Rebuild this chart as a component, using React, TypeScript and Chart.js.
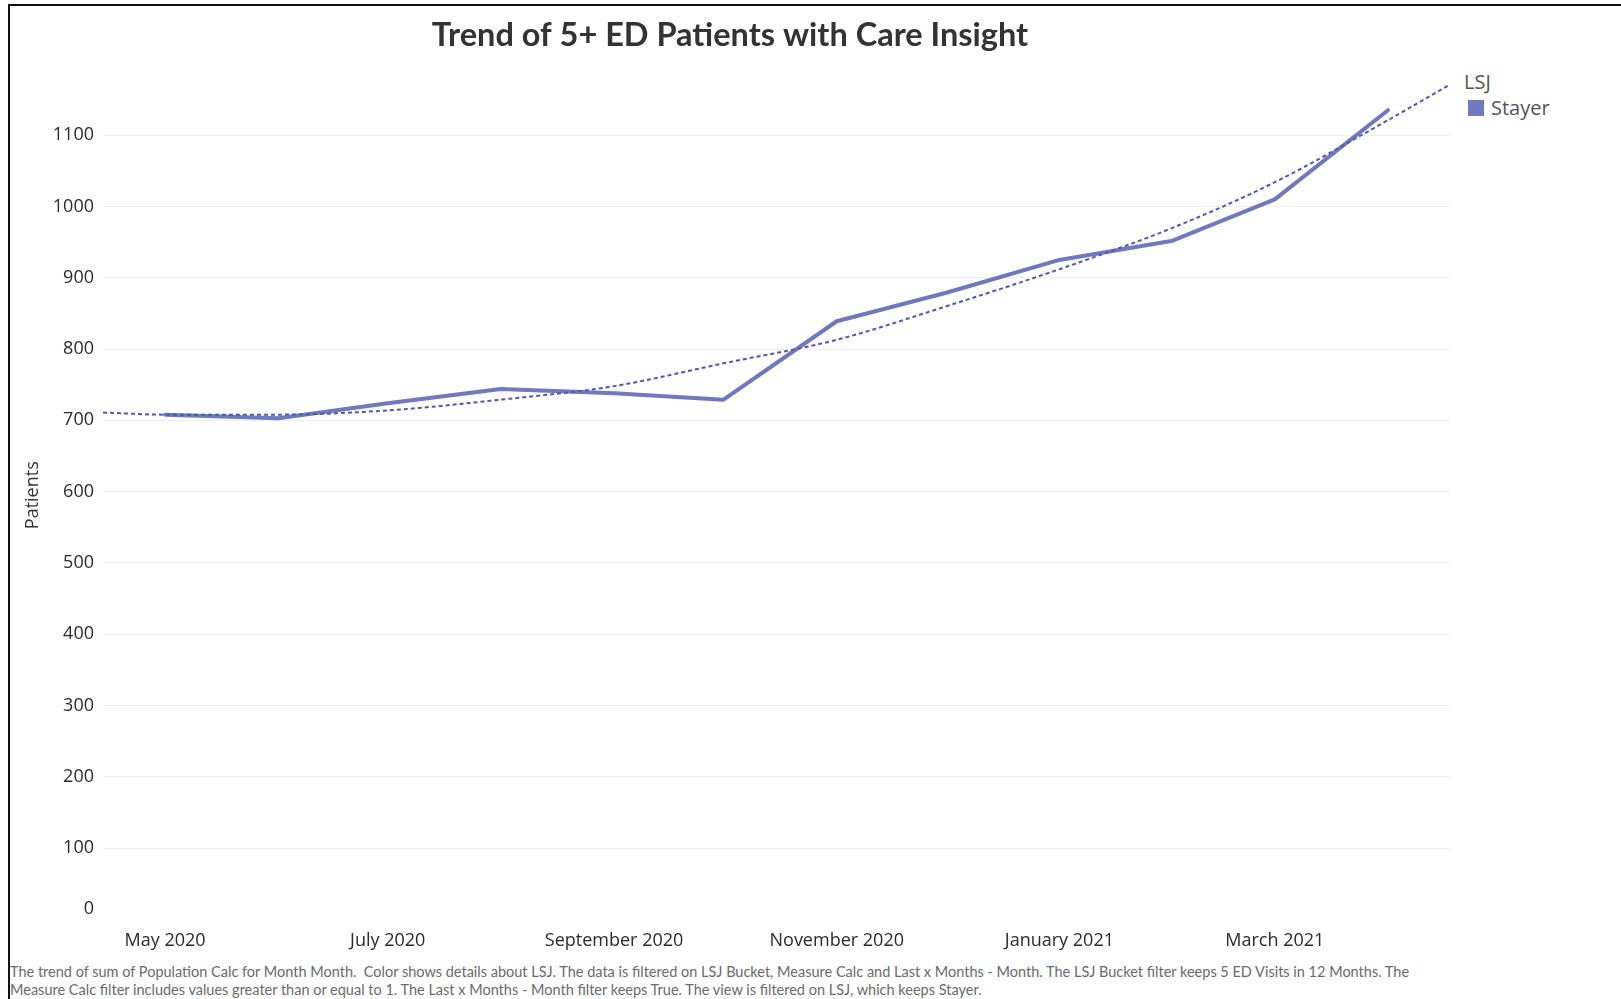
import React, { useEffect, useRef } from "react";
import { Chart, registerables } from "chart.js";

Chart.register(...registerables);

const TITLE = "Trend of 5+ ED Patients with Care Insight";
const Y_TITLE = "Patients";
const LEGEND_TITLE = "LSJ";
const SERIES_NAME = "Stayer";

const monthDates = [
  "2020-05-01", "2020-06-01", "2020-07-01", "2020-08-01", "2020-09-01", "2020-10-01",
  "2020-11-01", "2020-12-01", "2021-01-01", "2021-02-01", "2021-03-01", "2021-04-01",
];
const stayerValues = [708, 703, 724, 744, 738, 729, 839, 879, 925, 952, 1010, 1135];

const trendDates = [
  "2020-04-14", "2020-05-01", "2020-06-01", "2020-07-01", "2020-08-01", "2020-09-01", "2020-10-01",
  "2020-11-01", "2020-12-01", "2021-01-01", "2021-02-01", "2021-03-01", "2021-04-01", "2021-04-18",
];
const trendValues = [711, 708, 708, 714, 729, 748, 780, 813, 860, 912, 970, 1034, 1121, 1171];

const xTickDates = ["2020-05-01", "2020-07-01", "2020-09-01", "2020-11-01", "2021-01-01", "2021-03-01"];
const xTickLabels = ["May 2020", "July 2020", "September 2020", "November 2020", "January 2021", "March 2021"];
const yTickValues = [0, 100, 200, 300, 400, 500, 600, 700, 800, 900, 1000, 1100];

const X_START = "2020-04-14";
const X_END = "2021-04-18";
const Y_MIN = 0;
const Y_MAX = 1190;

const FOOTER_1 =
  "The trend of sum of Population Calc for Month Month.  Color shows details about LSJ. The data is filtered on LSJ Bucket, Measure Calc and Last x Months - Month. The LSJ Bucket filter keeps 5 ED Visits in 12 Months. The";
const FOOTER_2 =
  "Measure Calc filter includes values greater than or equal to 1. The Last x Months - Month filter keeps True. The view is filtered on LSJ, which keeps Stayer.";

const LINE_COLOR = "#7078be";
const TREND_COLOR = "#5358ae";

const BASE = Date.UTC(2020, 4, 1);
function dayOf(s: string): number {
  const [y, m, d] = s.split("-").map(Number);
  return (Date.UTC(y, m - 1, d) - BASE) / 86400000;
}

export default function App() {
  const ref = useRef<HTMLCanvasElement | null>(null);

  useEffect(() => {
    if (!ref.current) return;
    const chart = new Chart(ref.current, {
      type: "line",
      data: {
        datasets: [
          {
            label: "Trend",
            data: trendDates.map((d, i) => ({ x: dayOf(d), y: trendValues[i] })),
            borderColor: TREND_COLOR,
            borderWidth: 2,
            borderDash: [4, 3],
            pointRadius: 0,
            cubicInterpolationMode: "monotone",
            fill: false,
            order: 0,
          },
          {
            label: SERIES_NAME,
            data: monthDates.map((d, i) => ({ x: dayOf(d), y: stayerValues[i] })),
            borderColor: LINE_COLOR,
            borderWidth: 4,
            pointRadius: 0,
            borderCapStyle: "round",
            borderJoinStyle: "round",
            tension: 0,
            fill: false,
            order: 1,
          },
        ],
      },
      options: {
        animation: false,
        responsive: false,
        devicePixelRatio: 1,
        layout: { padding: 0 },
        plugins: {
          legend: { display: false },
          tooltip: { enabled: false },
          title: {
            display: true,
            text: TITLE,
            color: "#333333",
            font: { family: "Lato", size: 32.5, weight: "bold" },
            padding: { top: 10.5, bottom: 15.5 },
          },
        },
        scales: {
          x: {
            type: "linear",
            min: dayOf(X_START),
            max: dayOf(X_END),
            grid: { display: false, drawTicks: false },
            border: { display: false },
            afterBuildTicks: (scale: any) => {
              scale.ticks = xTickDates.map((d) => ({ value: dayOf(d) }));
            },
            ticks: {
              autoSkip: false,
              maxRotation: 0,
              padding: 11,
              color: "#2b2b2b",
              font: { family: "Open Sans", size: 18 },
              callback: (_v: any, i: number) => xTickLabels[i],
            },
          },
          y: {
            type: "linear",
            min: Y_MIN,
            max: Y_MAX,
            afterBuildTicks: (scale: any) => {
              scale.ticks = yTickValues.map((v) => ({ value: v }));
            },
            afterFit: (scale: any) => {
              scale.width = 93;
              scale.paddingTop = 0;
              scale.paddingBottom = 0;
            },
            grid: {
              drawTicks: false,
              color: (ctx: any) => (ctx.tick && ctx.tick.value === 0 ? "rgba(0,0,0,0)" : "#efefef"),
              lineWidth: 1,
            },
            border: { display: false },
            ticks: {
              padding: 9,
              color: "#2b2b2b",
              font: { family: "Open Sans", size: 18 },
              callback: (v: any) => (v === 0 ? ["0", ""] : String(v)),
            },
            title: {
              display: true,
              text: Y_TITLE,
              color: "#333333",
              font: { family: "Open Sans", size: 18 },
              padding: { top: 12, bottom: 0 },
            },
          },
        },
      },
    });
    return () => chart.destroy();
  }, []);

  return (
    <div
      style={{
        position: "fixed",
        left: 0,
        top: 0,
        width: 1621,
        height: 999,
        overflow: "hidden",
        background: "#ffffff",
        fontFamily: "Lato, sans-serif",
      }}
    >
      <div
        style={{
          position: "absolute",
          left: 8,
          top: 4,
          width: 1613,
          height: 995,
          boxSizing: "border-box",
          borderLeft: "2px solid #111",
          borderTop: "2px solid #111",
        }}
      />
      <canvas
        ref={ref}
        width={1440}
        height={957}
        style={{ position: "absolute", left: 10, top: 6, width: 1440, height: 957 }}
      />
      <div
        style={{
          position: "absolute",
          left: 1464,
          top: 72,
          fontFamily: "Open Sans",
          fontSize: 20,
          lineHeight: "20px",
          color: "#555555",
          whiteSpace: "nowrap",
        }}
      >
        {LEGEND_TITLE}
      </div>
      <div
        style={{
          position: "absolute",
          left: 1468,
          top: 100,
          width: 16,
          height: 16,
          background: LINE_COLOR,
        }}
      />
      <div
        style={{
          position: "absolute",
          left: 1491,
          top: 98,
          fontFamily: "Open Sans",
          fontSize: 20,
          lineHeight: "20px",
          color: "#555555",
          whiteSpace: "nowrap",
        }}
      >
        {SERIES_NAME}
      </div>
      <div
        style={{
          position: "absolute",
          left: 10,
          top: 963,
          fontFamily: "Lato",
          fontSize: 14.5,
          lineHeight: "18px",
          color: "#6b6b6b",
          whiteSpace: "pre",
        }}
      >
        {FOOTER_1}
      </div>
      <div
        style={{
          position: "absolute",
          left: 10,
          top: 981,
          fontFamily: "Lato",
          fontSize: 14.5,
          lineHeight: "18px",
          color: "#6b6b6b",
          whiteSpace: "pre",
        }}
      >
        {FOOTER_2}
      </div>
    </div>
  );
}
